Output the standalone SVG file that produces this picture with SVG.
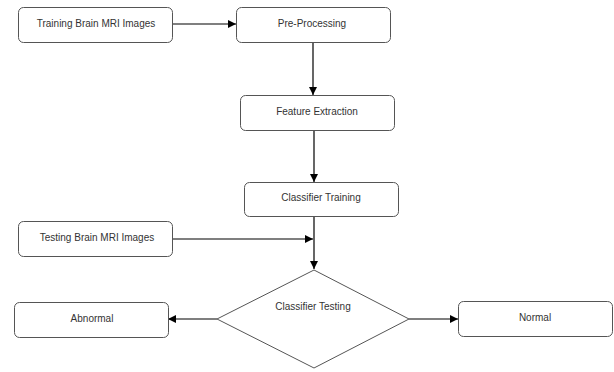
<svg xmlns="http://www.w3.org/2000/svg" width="614" height="372" viewBox="0 0 614 372">
<defs>
<marker id="ah" viewBox="0 0 10 10" refX="10" refY="5" markerWidth="8" markerHeight="8" markerUnits="userSpaceOnUse" orient="auto">
<path d="M0,0 L10,5 L0,10 Z" fill="#000"/>
</marker>
<style>
.box{fill:#fff;stroke:#555;stroke-width:1}
.t{font-family:"Liberation Sans",Arial,sans-serif;font-size:10px;fill:#333;text-anchor:middle}
.c{fill:none;stroke:#000;stroke-width:1.2;marker-end:url(#ah)}
</style>
</defs>
<rect width="614" height="372" fill="#fff"/>
<g id="connectors">
<line class="c" x1="173" y1="24" x2="236" y2="24"/>
<line class="c" x1="313" y1="43" x2="313" y2="95"/>
<line class="c" x1="314" y1="131" x2="314" y2="182"/>
<line class="c" x1="314" y1="217" x2="314" y2="269"/>
<line class="c" x1="173" y1="239" x2="313" y2="239"/>
<line class="c" x1="217" y1="319" x2="168" y2="319"/>
<line class="c" x1="409" y1="319" x2="458" y2="319"/>
</g>
<g id="training"><rect class="box" x="18.5" y="7.5" width="154" height="35" rx="5"/><text class="t" x="96" y="27">Training Brain MRI Images</text></g>
<g id="preprocessing"><rect class="box" x="236.5" y="7.5" width="154" height="35" rx="5"/><text class="t" x="312" y="27">Pre-Processing</text></g>
<g id="feature"><rect class="box" x="240.5" y="95.5" width="154" height="35" rx="5"/><text class="t" x="317" y="115">Feature Extraction</text></g>
<g id="classtrain"><rect class="box" x="244.5" y="182.5" width="154" height="34" rx="5"/><text class="t" x="321" y="201">Classifier Training</text></g>
<g id="testing"><rect class="box" x="18.5" y="221.5" width="154" height="35" rx="5"/><text class="t" x="97" y="241">Testing Brain MRI Images</text></g>
<g id="classtest"><polygon points="314,270 409,319 314,368 217,319" fill="#fff" stroke="#555" stroke-width="1"/><text class="t" x="313" y="310">Classifier Testing</text></g>
<g id="abnormal"><rect class="box" x="14.5" y="302.5" width="154" height="35" rx="5"/><text class="t" x="92" y="322">Abnormal</text></g>
<g id="normal"><rect class="box" x="458.5" y="301.5" width="154" height="35" rx="5"/><text class="t" x="535" y="321">Normal</text></g>
</svg>
